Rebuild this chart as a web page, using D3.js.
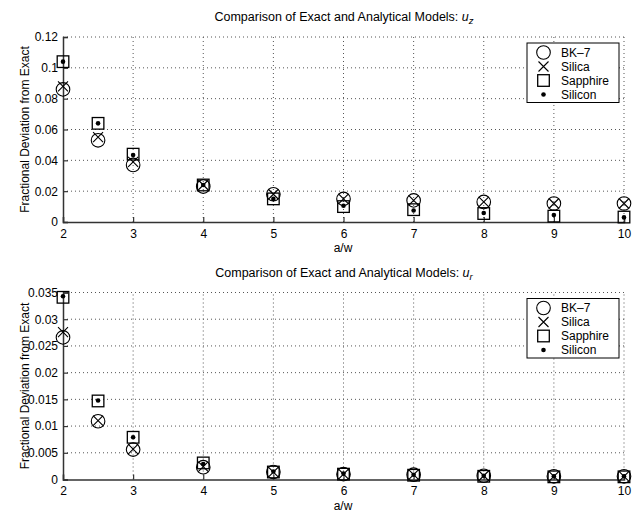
<!DOCTYPE html>
<html>
<head>
<meta charset="utf-8">
<script src="https://cdn.jsdelivr.net/npm/d3@7"></script>
<style>
  body { margin: 0; background: #fff; }
  text { font-family: "Liberation Sans", Arial, Helvetica, sans-serif; fill: #000; }
</style>
</head>
<body>
<svg id="chart" width="639" height="511"></svg>
<script>
// Aspect ratio a/w at which each model was evaluated
const ratios = [2, 2.5, 3, 4, 5, 6, 7, 8, 9, 10];
const materials = ["BK\u20137", "Silica", "Sapphire", "Silicon"];
const xTicks = [2, 3, 4, 5, 6, 7, 8, 9, 10];

// Axial displacement u_z: fractional deviation from exact solution
const uzBK7      = [0.086, 0.053, 0.037, 0.023, 0.018, 0.015, 0.014, 0.013, 0.012, 0.012];
const uzSilica   = [0.088, 0.055, 0.039, 0.024, 0.018, 0.015, 0.014, 0.013, 0.012, 0.012];
const uzSapphire = [0.104, 0.064, 0.044, 0.024, 0.015, 0.010, 0.008, 0.0055, 0.0038, 0.0032];
const uzSilicon  = [0.104, 0.064, 0.0435, 0.024, 0.015, 0.0105, 0.0075, 0.0058, 0.0045, 0.003];
const uzTicks    = [0, 0.02, 0.04, 0.06, 0.08, 0.1, 0.12];
const uzTickLabels = ["0", "0.02", "0.04", "0.06", "0.08", "0.1", "0.12"];

// Radial displacement u_r: fractional deviation from exact solution
const urBK7      = [0.0266, 0.0109, 0.0056, 0.0023, 0.0014, 0.0010, 0.0009, 0.0007, 0.0006, 0.0006];
const urSilica   = [0.0276, 0.0110, 0.0057, 0.0024, 0.0014, 0.0010, 0.0009, 0.0007, 0.0006, 0.0006];
const urSapphire = [0.0341, 0.0147, 0.0079, 0.0031, 0.0014, 0.0010, 0.0008, 0.0006, 0.0005, 0.0005];
const urSilicon  = [0.0343, 0.0148, 0.0079, 0.0029, 0.0015, 0.0011, 0.0009, 0.0007, 0.0006, 0.0006];
const urTicks    = [0, 0.005, 0.01, 0.015, 0.02, 0.025, 0.03, 0.035];
const urTickLabels = ["0", "0.005", "0.01", "0.015", "0.02", "0.025", "0.03", "0.035"];

const svg = d3.select("#chart");

const panels = [
  { sub: "z", series: [uzBK7, uzSilica, uzSapphire, uzSilicon], ticks: uzTicks, labels: uzTickLabels,
    yMax: 0.12, top: 37, bottom: 222, titleY: 21, legendTop: 43 },
  { sub: "r", series: [urBK7, urSilica, urSapphire, urSilicon], ticks: urTicks, labels: urTickLabels,
    yMax: 0.035, top: 292.5, bottom: 479.5, titleY: 277, legendTop: 298.5 }
];

const x = d3.scaleLinear().domain([2, 10]).range([63, 624]);

// Marker drawing functions, one per material
function drawMarker(g, kind, cx, cy) {
  if (kind === 0) {
    g.append("circle").attr("cx", cx).attr("cy", cy).attr("r", 6.8)
      .attr("fill", "none").attr("stroke", "#000").attr("stroke-width", 1.1);
  } else if (kind === 1) {
    const h = 5;
    g.append("path")
      .attr("d", `M${cx - h},${cy - h}L${cx + h},${cy + h}M${cx - h},${cy + h}L${cx + h},${cy - h}`)
      .attr("stroke", "#000").attr("stroke-width", 1.1).attr("fill", "none");
  } else if (kind === 2) {
    const h = 5.8;
    g.append("rect").attr("x", cx - h).attr("y", cy - h).attr("width", 2 * h).attr("height", 2 * h)
      .attr("fill", "none").attr("stroke", "#000").attr("stroke-width", 1.3);
  } else {
    g.append("circle").attr("cx", cx).attr("cy", cy).attr("r", 2.3).attr("fill", "#000");
  }
}

panels.forEach(p => {
  const y = d3.scaleLinear().domain([0, p.yMax]).range([p.bottom, p.top]);
  const g = svg.append("g");

  // Dotted grid
  const grid = g.append("g").attr("stroke", "#555").attr("stroke-width", 1)
    .attr("stroke-dasharray", "1,3");
  xTicks.slice(1).forEach(t => {
    grid.append("line").attr("x1", x(t)).attr("x2", x(t))
      .attr("y1", p.bottom).attr("y2", p.top);
  });
  p.ticks.slice(1).forEach(t => {
    grid.append("line").attr("x1", x(2)).attr("x2", x(10))
      .attr("y1", y(t)).attr("y2", y(t));
  });

  // Axes with inward ticks
  const xAxis = d3.axisBottom(x).tickValues(xTicks).tickSize(-5).tickPadding(7)
    .tickFormat(d3.format("d"));
  const gx = g.append("g").attr("transform", `translate(0,${p.bottom})`).call(xAxis);
  const yAxis = d3.axisLeft(y).tickValues(p.ticks).tickSize(-5).tickPadding(5)
    .tickFormat((d, i) => p.labels[i]);
  const gy = g.append("g").attr("transform", `translate(${x(2)},0)`).call(yAxis);
  [gx, gy].forEach(a => {
    a.select(".domain").attr("stroke", "#333").attr("stroke-width", 1.5);
    a.selectAll(".tick line").attr("stroke", "#333").attr("stroke-width", 1.2);
    a.selectAll(".tick text").attr("font-size", 12).attr("font-family", "Liberation Sans, Arial, sans-serif");
  });

  // Axis labels
  g.append("text").attr("x", 343).attr("y", p.bottom + 30).attr("text-anchor", "middle")
    .attr("font-size", 12).text("a/w");
  g.append("text")
    .attr("transform", `translate(29,${(p.top + p.bottom) / 2}) rotate(-90)`)
    .attr("text-anchor", "middle").attr("font-size", 12)
    .text("Fractional Deviation from Exact");

  // Title with italic subscripted displacement symbol
  const title = g.append("text").attr("x", 344).attr("y", p.titleY).attr("text-anchor", "middle")
    .attr("font-size", 12.5);
  title.append("tspan").text("Comparison of Exact and Analytical Models: ");
  title.append("tspan").attr("font-style", "italic").text("u");
  title.append("tspan").attr("font-style", "italic").attr("font-size", 9.5).attr("dy", 3).text(p.sub);

  // Data markers
  const marks = g.append("g");
  p.series.forEach((vals, k) => {
    vals.forEach((v, i) => drawMarker(marks, k, x(ratios[i]), y(v)));
  });

  // Legend
  const lg = g.append("g");
  lg.append("rect").attr("x", 527).attr("y", p.legendTop).attr("width", 92).attr("height", 59.5)
    .attr("fill", "#fff").attr("stroke", "#000").attr("stroke-width", 1);
  materials.forEach((m, k) => {
    const ly = p.legendTop + 9.5 + k * 14;
    drawMarker(lg, k, 543.5, ly);
    lg.append("text").attr("x", 561).attr("y", ly + 4.3).attr("font-size", 12).text(m);
  });
});
</script>
</body>
</html>
